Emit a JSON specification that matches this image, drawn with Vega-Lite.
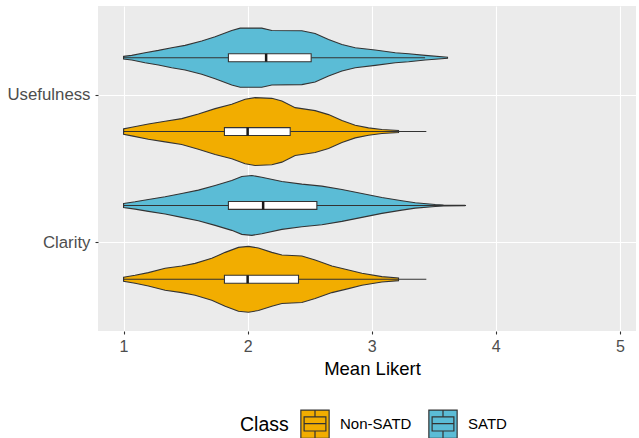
{
  "$schema": "https://vega.github.io/schema/vega-lite/v6.json",
  "autosize": "none",
  "width": 538,
  "height": 325,
  "padding": {"left": 98, "top": 6, "right": 3, "bottom": 107},
  "background": "white",
  "config": {
    "font": "Liberation Sans",
    "view": {"fill": "#EBEBEB", "stroke": null},
    "axis": {"domain": false, "gridColor": "white", "gridWidth": 1.1, "tickColor": "#333333", "tickSize": 3, "tickWidth": 1.1, "labelColor": "#4D4D4D", "labelFontSize": 16, "titleFontWeight": "normal", "titleColor": "black", "titleFontSize": 18.5}
  },
  "datasets": {
    "violin": [
      {"metric": "Usefulness", "class": "SATD", "value": 1.0, "density": 0.04},
      {"metric": "Usefulness", "class": "SATD", "value": 1.066, "density": 0.07},
      {"metric": "Usefulness", "class": "SATD", "value": 1.173, "density": 0.15},
      {"metric": "Usefulness", "class": "SATD", "value": 1.281, "density": 0.22},
      {"metric": "Usefulness", "class": "SATD", "value": 1.388, "density": 0.30},
      {"metric": "Usefulness", "class": "SATD", "value": 1.496, "density": 0.37},
      {"metric": "Usefulness", "class": "SATD", "value": 1.630, "density": 0.50},
      {"metric": "Usefulness", "class": "SATD", "value": 1.738, "density": 0.63},
      {"metric": "Usefulness", "class": "SATD", "value": 1.872, "density": 0.82},
      {"metric": "Usefulness", "class": "SATD", "value": 1.940, "density": 0.89},
      {"metric": "Usefulness", "class": "SATD", "value": 2.114, "density": 0.89},
      {"metric": "Usefulness", "class": "SATD", "value": 2.195, "density": 0.82},
      {"metric": "Usefulness", "class": "SATD", "value": 2.437, "density": 0.81},
      {"metric": "Usefulness", "class": "SATD", "value": 2.544, "density": 0.73},
      {"metric": "Usefulness", "class": "SATD", "value": 2.652, "density": 0.55},
      {"metric": "Usefulness", "class": "SATD", "value": 2.760, "density": 0.40},
      {"metric": "Usefulness", "class": "SATD", "value": 2.867, "density": 0.30},
      {"metric": "Usefulness", "class": "SATD", "value": 3.028, "density": 0.23},
      {"metric": "Usefulness", "class": "SATD", "value": 3.190, "density": 0.15},
      {"metric": "Usefulness", "class": "SATD", "value": 3.297, "density": 0.12},
      {"metric": "Usefulness", "class": "SATD", "value": 3.431, "density": 0.07},
      {"metric": "Usefulness", "class": "SATD", "value": 3.611, "density": 0.015},
      {"metric": "Usefulness", "class": "Non-SATD", "value": 1.0, "density": 0.08},
      {"metric": "Usefulness", "class": "Non-SATD", "value": 1.066, "density": 0.13},
      {"metric": "Usefulness", "class": "Non-SATD", "value": 1.200, "density": 0.23},
      {"metric": "Usefulness", "class": "Non-SATD", "value": 1.335, "density": 0.31},
      {"metric": "Usefulness", "class": "Non-SATD", "value": 1.469, "density": 0.39},
      {"metric": "Usefulness", "class": "Non-SATD", "value": 1.603, "density": 0.53},
      {"metric": "Usefulness", "class": "Non-SATD", "value": 1.738, "density": 0.69},
      {"metric": "Usefulness", "class": "Non-SATD", "value": 1.872, "density": 0.82},
      {"metric": "Usefulness", "class": "Non-SATD", "value": 1.980, "density": 0.97},
      {"metric": "Usefulness", "class": "Non-SATD", "value": 2.060, "density": 1.02},
      {"metric": "Usefulness", "class": "Non-SATD", "value": 2.195, "density": 1.00},
      {"metric": "Usefulness", "class": "Non-SATD", "value": 2.276, "density": 0.92},
      {"metric": "Usefulness", "class": "Non-SATD", "value": 2.383, "density": 0.72},
      {"metric": "Usefulness", "class": "Non-SATD", "value": 2.544, "density": 0.63},
      {"metric": "Usefulness", "class": "Non-SATD", "value": 2.652, "density": 0.51},
      {"metric": "Usefulness", "class": "Non-SATD", "value": 2.760, "density": 0.33},
      {"metric": "Usefulness", "class": "Non-SATD", "value": 2.867, "density": 0.19},
      {"metric": "Usefulness", "class": "Non-SATD", "value": 2.974, "density": 0.11},
      {"metric": "Usefulness", "class": "Non-SATD", "value": 3.082, "density": 0.06},
      {"metric": "Usefulness", "class": "Non-SATD", "value": 3.216, "density": 0.03},
      {"metric": "Clarity", "class": "SATD", "value": 1.0, "density": 0.06},
      {"metric": "Clarity", "class": "SATD", "value": 1.093, "density": 0.11},
      {"metric": "Clarity", "class": "SATD", "value": 1.200, "density": 0.18},
      {"metric": "Clarity", "class": "SATD", "value": 1.335, "density": 0.26},
      {"metric": "Clarity", "class": "SATD", "value": 1.469, "density": 0.36},
      {"metric": "Clarity", "class": "SATD", "value": 1.603, "density": 0.46},
      {"metric": "Clarity", "class": "SATD", "value": 1.738, "density": 0.60},
      {"metric": "Clarity", "class": "SATD", "value": 1.872, "density": 0.75},
      {"metric": "Clarity", "class": "SATD", "value": 1.953, "density": 0.87},
      {"metric": "Clarity", "class": "SATD", "value": 2.034, "density": 0.90},
      {"metric": "Clarity", "class": "SATD", "value": 2.114, "density": 0.85},
      {"metric": "Clarity", "class": "SATD", "value": 2.276, "density": 0.72},
      {"metric": "Clarity", "class": "SATD", "value": 2.437, "density": 0.64},
      {"metric": "Clarity", "class": "SATD", "value": 2.598, "density": 0.58},
      {"metric": "Clarity", "class": "SATD", "value": 2.760, "density": 0.48},
      {"metric": "Clarity", "class": "SATD", "value": 2.921, "density": 0.36},
      {"metric": "Clarity", "class": "SATD", "value": 3.082, "density": 0.24},
      {"metric": "Clarity", "class": "SATD", "value": 3.243, "density": 0.14},
      {"metric": "Clarity", "class": "SATD", "value": 3.351, "density": 0.08},
      {"metric": "Clarity", "class": "SATD", "value": 3.512, "density": 0.03},
      {"metric": "Clarity", "class": "SATD", "value": 3.579, "density": 0.015},
      {"metric": "Clarity", "class": "SATD", "value": 3.75, "density": 0.005},
      {"metric": "Clarity", "class": "Non-SATD", "value": 1.0, "density": 0.06},
      {"metric": "Clarity", "class": "Non-SATD", "value": 1.093, "density": 0.12},
      {"metric": "Clarity", "class": "Non-SATD", "value": 1.200, "density": 0.20},
      {"metric": "Clarity", "class": "Non-SATD", "value": 1.335, "density": 0.33},
      {"metric": "Clarity", "class": "Non-SATD", "value": 1.469, "density": 0.40},
      {"metric": "Clarity", "class": "Non-SATD", "value": 1.577, "density": 0.48},
      {"metric": "Clarity", "class": "Non-SATD", "value": 1.711, "density": 0.63},
      {"metric": "Clarity", "class": "Non-SATD", "value": 1.819, "density": 0.81},
      {"metric": "Clarity", "class": "Non-SATD", "value": 1.926, "density": 0.96},
      {"metric": "Clarity", "class": "Non-SATD", "value": 2.007, "density": 0.99},
      {"metric": "Clarity", "class": "Non-SATD", "value": 2.087, "density": 0.94},
      {"metric": "Clarity", "class": "Non-SATD", "value": 2.195, "density": 0.81},
      {"metric": "Clarity", "class": "Non-SATD", "value": 2.276, "density": 0.73},
      {"metric": "Clarity", "class": "Non-SATD", "value": 2.437, "density": 0.70},
      {"metric": "Clarity", "class": "Non-SATD", "value": 2.544, "density": 0.58},
      {"metric": "Clarity", "class": "Non-SATD", "value": 2.679, "density": 0.40},
      {"metric": "Clarity", "class": "Non-SATD", "value": 2.813, "density": 0.28},
      {"metric": "Clarity", "class": "Non-SATD", "value": 2.921, "density": 0.18},
      {"metric": "Clarity", "class": "Non-SATD", "value": 3.082, "density": 0.08},
      {"metric": "Clarity", "class": "Non-SATD", "value": 3.216, "density": 0.04}
    ],
    "box": [
      {"metric": "Usefulness", "class": "SATD", "min": 1.0, "q1": 1.845, "median": 2.149, "q3": 2.512, "max": 3.43},
      {"metric": "Usefulness", "class": "Non-SATD", "min": 1.0, "q1": 1.813, "median": 2.0, "q3": 2.343, "max": 3.44},
      {"metric": "Clarity", "class": "SATD", "min": 1.0, "q1": 1.845, "median": 2.125, "q3": 2.558, "max": 3.76},
      {"metric": "Clarity", "class": "Non-SATD", "min": 1.0, "q1": 1.813, "median": 2.0, "q3": 2.41, "max": 3.44}
    ]
  },
  "layer": [
    {
      "data": {"name": "violin"},
      "transform": [
        {"calculate": "(datum.metric == 'Usefulness' ? 2 : 1) + (datum['class'] == 'SATD' ? 0.25 : -0.25)", "as": "center"},
        {"calculate": "datum.center + datum.density * 0.225", "as": "upper"},
        {"calculate": "datum.center - datum.density * 0.225", "as": "lower"}
      ],
      "mark": {"type": "area", "stroke": "#333333", "strokeWidth": 1.1, "orient": "vertical", "opacity": 1},
      "encoding": {
        "x": {"field": "value", "type": "quantitative", "scale": {"domain": [0.794, 5.13], "nice": false, "zero": false},
              "axis": {"values": [1, 2, 3, 4, 5], "format": "d", "title": "Mean Likert", "labelPadding": 4, "titlePadding": 5, "titleX": 274}},
        "y": {"field": "upper", "type": "quantitative", "scale": {"domain": [0.4, 2.6], "nice": false, "zero": false},
              "axis": {"values": [1, 2], "title": null, "labelExpr": "datum.value == 2 ? 'Usefulness' : 'Clarity'", "labelPadding": 5, "labelFontSize": 16.8}},
        "y2": {"field": "lower"},
        "fill": {"field": "class", "type": "nominal", "scale": {"domain": ["Non-SATD", "SATD"], "range": ["#F2AD00", "#5BBCD6"]},
                 "legend": {"orient": "none", "legendX": 142, "legendY": 403, "direction": "horizontal", "titleOrient": "left", "title": "Class",
                            "titleFontSize": 19.5, "titleFontWeight": "normal", "titleColor": "black", "titlePadding": 11,
                            "labelFontSize": 15, "labelColor": "black", "labelOffset": 10, "columnPadding": 14,
                            "symbolType": "M-1,-1H1V1H-1Z M-0.77,-0.52H0.77V0.48H-0.77Z M-0.77,-0.04H0.77 M0,-1V-0.52 M0,0.48V1",
                            "symbolSize": 800, "symbolStrokeColor": "#333333", "symbolStrokeWidth": 1.2, "symbolOpacity": 1}},
        "detail": {"field": "metric"}
      }
    },
    {
      "data": {"name": "box"},
      "transform": [
        {"calculate": "(datum.metric == 'Usefulness' ? 2 : 1) + (datum['class'] == 'SATD' ? 0.25 : -0.25)", "as": "center"}
      ],
      "mark": {"type": "rule", "color": "#333333", "strokeWidth": 1.1},
      "encoding": {
        "x": {"field": "min", "type": "quantitative"},
        "x2": {"field": "max"},
        "y": {"field": "center", "type": "quantitative"}
      }
    },
    {
      "data": {"name": "box"},
      "transform": [
        {"calculate": "(datum.metric == 'Usefulness' ? 2 : 1) + (datum['class'] == 'SATD' ? 0.25 : -0.25)", "as": "center"},
        {"calculate": "datum.center + 0.027", "as": "btop"},
        {"calculate": "datum.center - 0.027", "as": "bbot"}
      ],
      "mark": {"type": "rect", "fill": "white", "stroke": "#333333", "strokeWidth": 1.1},
      "encoding": {
        "x": {"field": "q1", "type": "quantitative"},
        "x2": {"field": "q3"},
        "y": {"field": "btop", "type": "quantitative"},
        "y2": {"field": "bbot"}
      }
    },
    {
      "data": {"name": "box"},
      "transform": [
        {"calculate": "(datum.metric == 'Usefulness' ? 2 : 1) + (datum['class'] == 'SATD' ? 0.25 : -0.25)", "as": "center"},
        {"calculate": "datum.center + 0.027", "as": "btop"},
        {"calculate": "datum.center - 0.027", "as": "bbot"}
      ],
      "mark": {"type": "rule", "color": "#1A1A1A", "strokeWidth": 2.5},
      "encoding": {
        "x": {"field": "median", "type": "quantitative"},
        "y": {"field": "btop", "type": "quantitative"},
        "y2": {"field": "bbot"}
      }
    }
  ]
}
